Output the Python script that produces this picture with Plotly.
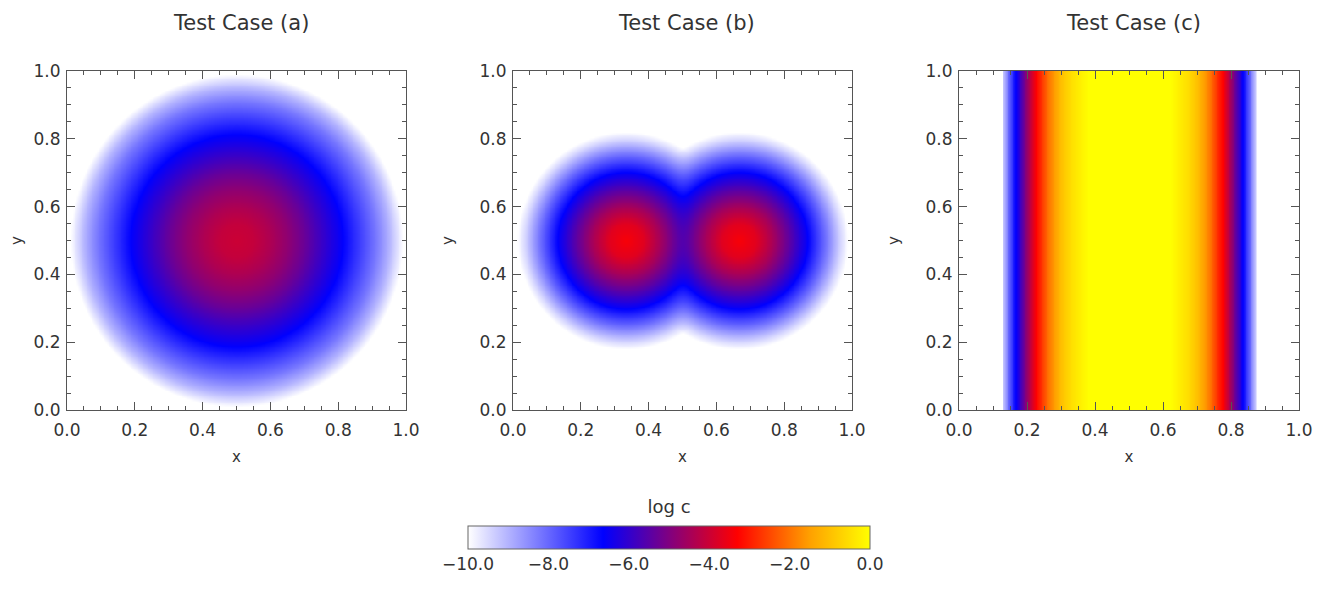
import numpy as np
import plotly.graph_objects as go

# log c profiles
# (a) single blob centred at (0.5, 0.5): log c vs distance from centre
radius_a = [0.0, 0.05, 0.10, 0.15, 0.20, 0.25, 0.31, 0.36, 0.41, 0.45, 0.49, 0.75]
logc_a = [-4.0, -4.1, -4.4, -4.8, -5.3, -5.9, -6.6, -7.4, -8.2, -9.0, -10.0, -10.0]

# (b) two blobs centred at x=0.333 / 0.667, y=0.5
centres_b = [0.333, 0.667]
radius_b = [0.0, 0.05, 0.10, 0.15, 0.20, 0.25, 0.30, 0.32, 0.75]
logc_b = [-3.4, -3.7, -4.5, -5.5, -6.6, -8.0, -9.5, -10.0, -10.0]

# (c) slab, varies only in x
x_c = [0.0, 0.125, 0.13, 0.145, 0.165, 0.194, 0.223, 0.262, 0.30, 0.33, 0.38,
       0.62, 0.67, 0.70, 0.738, 0.777, 0.806, 0.835, 0.855, 0.87, 0.875, 1.0]
logc_c = [-10.0, -10.0, -9.2, -8.0, -6.7, -5.0, -3.4, -2.0, -1.0, -0.5, 0.0,
          0.0, -0.5, -1.0, -2.0, -3.4, -5.0, -6.7, -8.0, -9.2, -10.0, -10.0]

titles = ["Test Case (a)", "Test Case (b)", "Test Case (c)"]
cbar_ticks = [-10, -8, -6, -4, -2, 0]

grid = np.linspace(0, 1, 201)
gx, gy = np.meshgrid(grid, grid)

za = np.interp(np.hypot(gx - 0.5, gy - 0.5), radius_a, logc_a)
blobs = [10 ** np.interp(np.hypot(gx - c, gy - 0.5), radius_b, logc_b) for c in centres_b]
# background floor is 1e-10, keep it there where the blobs overlap
zb = np.clip(np.log10(blobs[0] + blobs[1] - 1e-10), -10, 0)
zc = np.interp(gx, x_c, logc_c)

cscale = [
    [0.0, "rgb(255,255,255)"],
    [0.336, "rgb(0,0,255)"],
    [0.5, "rgb(128,0,128)"],
    [0.67, "rgb(255,0,0)"],
    [0.85, "rgb(255,160,0)"],
    [1.0, "rgb(255,255,0)"],
]

# page body has an 8px margin, so the figure is shrunk and shifted by that
OFF = 8
W, H = 1338 - 2 * OFF, 591 - 2 * OFF


def px_x(p):
    return (p - OFF) / W


def px_y(p):
    return 1 - (p - OFF) / H


xdoms = [(px_x(67), px_x(406)), (px_x(513), px_x(852)), (px_x(959), px_x(1299))]
ydom = (px_y(410), px_y(71))

fig = go.Figure()
for i, z in enumerate([za, zb, zc]):
    fig.add_trace(go.Heatmap(
        x=grid, y=grid, z=z,
        zmin=-10, zmax=0,
        colorscale=cscale,
        zsmooth="best",
        showscale=(i == 0),
        xaxis="x" if i == 0 else f"x{i+1}",
        yaxis="y" if i == 0 else f"y{i+1}",
        colorbar=dict(
            orientation="h",
            x=px_x(669), xanchor="center",
            y=px_y(580), yanchor="bottom",
            len=422, lenmode="pixels",
            thickness=23,
            outlinecolor="#666", outlinewidth=1,
            tickvals=cbar_ticks, tickformat=".1f",
            ticks="",
            tickfont=dict(size=17, color="#333"),
            title=dict(text="log c", side="top", font=dict(size=18, color="#333")),
        ),
    ))

axis_style = dict(
    range=[0, 1], dtick=0.2, tickformat=".1f",
    ticks="inside", ticklen=8, tickcolor="#555",
    minor=dict(dtick=0.05, ticks="inside", ticklen=4, tickcolor="#555"),
    showline=True, linecolor="#555", linewidth=1, mirror="allticks",
    showgrid=False, zeroline=False, automargin=False,
    tickfont=dict(size=17, color="#333"),
)

layout = dict(
    width=W, height=H,
    margin=dict(l=0, r=0, t=0, b=0, autoexpand=False),
    paper_bgcolor="white", plot_bgcolor="white",
    font=dict(family="DejaVu Sans", color="#333"),
    showlegend=False,
)
for i in range(3):
    sx = "" if i == 0 else str(i + 1)
    layout[f"xaxis{sx}"] = dict(axis_style, domain=xdoms[i], anchor=f"y{sx}",
                                ticklabelstandoff=5,
                                title=dict(text="x", font=dict(size=15), standoff=12))
    layout[f"yaxis{sx}"] = dict(axis_style, domain=ydom, anchor=f"x{sx}",
                                ticklabelstandoff=2,
                                title=dict(text="y", font=dict(size=15), standoff=22))

fig.update_layout(**layout)

for i, t in enumerate(titles):
    fig.add_annotation(
        text=t, xref="paper", yref="paper",
        x=(xdoms[i][0] + xdoms[i][1]) / 2 + 4 / W, y=px_y(23),
        xanchor="center", yanchor="middle", showarrow=False,
        font=dict(size=21, color="#333"),
    )

fig.write_html("out.html")
